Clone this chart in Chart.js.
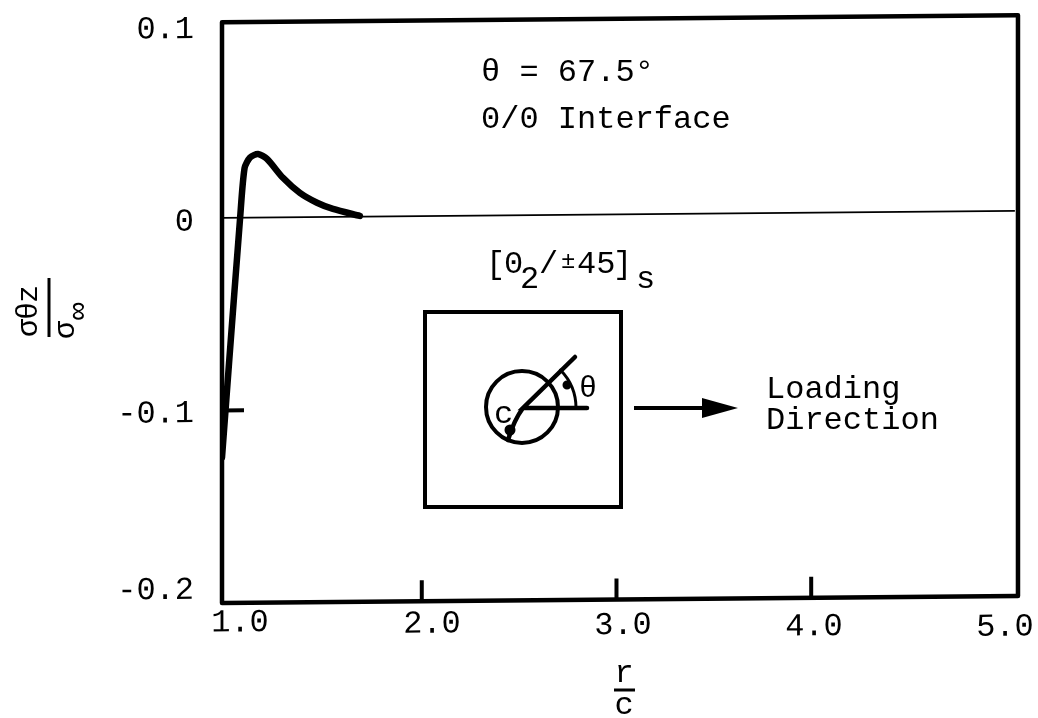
<!DOCTYPE html>
<html lang="en">
<head>
    <meta charset="UTF-8">
    <title>Stress vs r/c</title>
    <script src="https://cdn.jsdelivr.net/npm/chart.js"></script>
    <style>
        html, body { margin: 0; padding: 0; background: #fff; }
        canvas { display: block; }
    </style>
</head>
<body>
    <canvas id="grafico" width="1038" height="718"></canvas>
<script>
// values
const curveR = [0.974, 1.01, 1.067, 1.09, 1.118, 1.159, 1.205, 1.287, 1.374, 1.462, 1.544, 1.682];
const curveStress = [-0.1244, -0.0757, -0.0001, 0.0258, 0.0312, 0.033, 0.0304, 0.0205, 0.0126, 0.0074, 0.0041, 0.0004];
const zeroR = [0.974, 5.046];
const zeroStress = [0, 0];
const xTicks = [1, 2, 3, 4, 5];
const xTickLabels = ['1.0', '2.0', '3.0', '4.0', '5.0'];
const yTicks = [0.1, 0, -0.1, -0.2];
const yTickLabels = ['0.1', '0', '-0.1', '-0.2'];

const FONT = '"Liberation Mono", "DejaVu Sans Mono", monospace';
const SHEAR = 0.0088; // the scanned page sits slightly crooked

function texto(ctx, s, x, y, size) {
    ctx.font = size + 'px ' + FONT;
    ctx.fillText(s, x, y);
}

const moldura = {
    id: 'moldura',
    beforeDraw(chart) {
        const ctx = chart.ctx;
        ctx.save();
        ctx.transform(1, -SHEAR, 0, 1, 0, SHEAR * 222);

        // nudge the tick labels to where the typist put them
        const xPos = [[240, 623], [432, 626], [623, 629], [814, 632], [1005, 634]];
        chart.scales.x.getLabelItems().forEach(function (item, i) {
            item.textOffset = 0;
            item.options.textBaseline = 'middle';
            item.options.translation = xPos[i];
        });
        const yOff = [4, 4, 3, -13];
        chart.scales.y.getLabelItems().forEach(function (item, i) {
            item.options.translation = [194, chart.scales.y.getPixelForValue(yTicks[i]) + yOff[i]];
        });
    },
    afterDatasetsDraw(chart) {
        const ctx = chart.ctx;
        const a = chart.chartArea;
        ctx.strokeStyle = '#000';
        ctx.lineJoin = 'round';
        ctx.lineWidth = 4.5;
        ctx.strokeRect(a.left, a.top, a.right - a.left, a.bottom - a.top);

        // inward ticks
        ctx.lineWidth = 4;
        ctx.beginPath();
        [2, 3, 4].forEach(function (v) {
            const x = chart.scales.x.getPixelForValue(v);
            ctx.moveTo(x, a.bottom);
            ctx.lineTo(x, a.bottom - 21);
        });
        const y = chart.scales.y.getPixelForValue(-0.1);
        ctx.moveTo(a.left, y);
        ctx.lineTo(a.left + 22, y);
        ctx.stroke();
    },
    afterDraw(chart) {
        const ctx = chart.ctx;
        ctx.restore();
        ctx.save();
        ctx.fillStyle = '#000';
        ctx.strokeStyle = '#000';
        ctx.textBaseline = 'alphabetic';
        ctx.textAlign = 'left';

        texto(ctx, 'θ = 67.5°', 481, 81, 32);
        texto(ctx, '0/0 Interface', 481, 128, 32);

        texto(ctx, '[', 486, 273, 32);
        texto(ctx, '0', 504, 273, 32);
        texto(ctx, '2', 520, 288, 32);
        texto(ctx, '/', 539, 273, 32);
        texto(ctx, '±', 561, 268, 24);
        texto(ctx, '45', 577, 273, 32);
        texto(ctx, ']', 613, 273, 32);
        texto(ctx, 's', 636, 288, 32);

        texto(ctx, 'Loading', 766, 398, 32);
        texto(ctx, 'Direction', 766, 429, 32);

        // inset sketch
        ctx.lineCap = 'round';
        ctx.lineWidth = 4;
        ctx.strokeRect(425, 312, 196, 195);
        ctx.beginPath();
        ctx.arc(522, 407, 36, 0, Math.PI * 2);
        ctx.stroke();
        ctx.lineWidth = 4.5;
        ctx.beginPath();
        ctx.moveTo(587, 408);
        ctx.lineTo(523, 408);
        ctx.lineTo(575, 357);
        ctx.moveTo(523, 408);
        ctx.quadraticCurveTo(514, 420, 508, 440);
        ctx.stroke();
        ctx.lineWidth = 3;
        ctx.beginPath();
        ctx.arc(522, 408, 54, -0.78, 0);
        ctx.stroke();
        ctx.beginPath();
        ctx.arc(510, 430, 5.5, 0, Math.PI * 2);
        ctx.arc(567, 385, 4.5, 0, Math.PI * 2);
        ctx.fill();
        texto(ctx, 'θ', 579, 397, 30);
        texto(ctx, 'c', 494, 423, 32);

        // loading arrow
        ctx.lineWidth = 4;
        ctx.lineCap = 'butt';
        ctx.beginPath();
        ctx.moveTo(634, 408);
        ctx.lineTo(705, 408);
        ctx.stroke();
        ctx.beginPath();
        ctx.moveTo(702, 398);
        ctx.lineTo(738, 408);
        ctx.lineTo(702, 418);
        ctx.closePath();
        ctx.fill();

        // x title
        ctx.textAlign = 'center';
        texto(ctx, 'r', 624, 682, 32);
        texto(ctx, 'c', 624, 714, 32);
        ctx.lineWidth = 3;
        ctx.beginPath();
        ctx.moveTo(614, 690);
        ctx.lineTo(635, 690);
        ctx.stroke();

        // y title, written sideways
        ctx.textAlign = 'left';
        ctx.lineWidth = 3;
        ctx.beginPath();
        ctx.moveTo(49, 278);
        ctx.lineTo(49, 337);
        ctx.stroke();
        ctx.save();
        ctx.translate(37, 337);
        ctx.rotate(-Math.PI / 2);
        ctx.letterSpacing = '-1px';
        texto(ctx, 'σθz', 0, 0, 30);
        ctx.restore();
        ctx.save();
        ctx.translate(74, 339);
        ctx.rotate(-Math.PI / 2);
        texto(ctx, 'σ', 0, 0, 30);
        ctx.restore();
        ctx.save();
        ctx.translate(87, 320);
        ctx.rotate(-Math.PI / 2);
        texto(ctx, '∞', 0, 0, 30);
        ctx.restore();
        ctx.restore();
    }
};

new Chart(document.getElementById('grafico'), {
    type: 'scatter',
    data: {
        datasets: [
            {
                data: curveR.map(function (r, i) { return { x: r, y: curveStress[i] }; }),
                showLine: true,
                borderColor: '#000',
                borderWidth: 6.5,
                pointRadius: 0,
                tension: 0.25,
                borderCapStyle: 'round',
                borderJoinStyle: 'round'
            },
            {
                data: zeroR.map(function (r, i) { return { x: r, y: zeroStress[i] }; }),
                showLine: true,
                borderColor: '#000',
                borderWidth: 1.8,
                pointRadius: 0
            }
        ]
    },
    options: {
        responsive: false,
        animation: false,
        layout: { padding: { top: 21, right: 19, left: 0, bottom: 0 } },
        plugins: { legend: { display: false }, tooltip: { enabled: false } },
        scales: {
            x: {
                type: 'linear',
                min: 0.974,
                max: 5.062,
                grid: { display: false, drawTicks: false },
                border: { display: false },
                afterBuildTicks(scale) { scale.ticks = xTicks.map(function (v) { return { value: v }; }); },
                afterFit(scale) { scale.height = 115; },
                ticks: {
                    autoSkip: false,
                    maxRotation: 0,
                    color: '#000',
                    font: { family: FONT, size: 32 },
                    callback: function (v, i) { return xTickLabels[i]; }
                }
            },
            y: {
                type: 'linear',
                min: -0.2,
                max: 0.1016,
                grid: { display: false, drawTicks: false },
                border: { display: false },
                afterBuildTicks(scale) { scale.ticks = yTicks.map(function (v) { return { value: v }; }); },
                afterFit(scale) { scale.width = 222; },
                ticks: {
                    autoSkip: false,
                    color: '#000',
                    font: { family: FONT, size: 32 },
                    callback: function (v, i) { return yTickLabels[i]; }
                }
            }
        }
    },
    plugins: [moldura]
});
</script>
</body>
</html>
